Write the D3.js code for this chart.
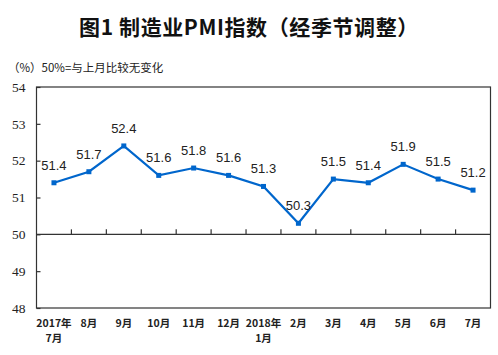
<!DOCTYPE html>
<html><head><meta charset="utf-8">
<script src="https://cdn.jsdelivr.net/npm/d3@7"></script>
<style>body{margin:0;background:#fff}svg{display:block}</style>
</head><body><svg id="c" width="498" height="355"></svg>
<script>
const months = ["2017年\n7月","8月","9月","10月","11月","12月","2018年\n1月","2月","3月","4月","5月","6月","7月"];
const pmi = [51.4,51.7,52.4,51.6,51.8,51.6,51.3,50.3,51.5,51.4,51.9,51.5,51.2];
const yTicks = [48,49,50,51,52,53,54];
const title = "图1 制造业PMI指数（经季节调整）";
const subtitle = "（%）50%=与上月比较无变化";

const svg = d3.select("#c");
const L=36.5, R=490.5, T=87, B=308;
const x = d3.scaleBand().domain(d3.range(months.length)).range([L,R]).padding(0);
const y = d3.scaleLinear().domain([48,54]).range([B,T]);
const axisColor="#333";

svg.append("text").attr("x",249).attr("y",35).attr("text-anchor","middle")
  .attr("font-family","'Noto Sans CJK SC',sans-serif").attr("font-weight","bold")
  .attr("font-size",21).attr("letter-spacing",0.6).attr("fill","#111").text(title);
svg.append("text").attr("x",8).attr("y",72)
  .attr("font-family","'Noto Sans CJK SC',sans-serif").attr("font-size",11.5)
  .attr("fill","#222").text(subtitle);

// frame
svg.append("rect").attr("x",L).attr("y",T).attr("width",R-L).attr("height",B-T)
  .attr("fill","none").attr("stroke",axisColor).attr("stroke-width",1.2);

// y axis
const ya = svg.append("g").attr("transform",`translate(${L},0)`)
  .call(d3.axisLeft(y).tickValues(yTicks).tickSize(-4).tickPadding(11).tickFormat(d3.format("d")));
ya.select(".domain").remove();
ya.selectAll("line").attr("stroke",axisColor).attr("stroke-width",1.2);
ya.selectAll("text").attr("font-family","'Liberation Serif',serif").attr("font-size",13.5).attr("fill","#222");

// x axis on the 50 line, ticks pointing up, at band boundaries
const y50 = y(50);
svg.append("line").attr("x1",L).attr("x2",R).attr("y1",y50).attr("y2",y50)
  .attr("stroke",axisColor).attr("stroke-width",1.2);
svg.append("g").selectAll("line").data(d3.range(1,months.length)).join("line")
  .attr("x1",d=>x(d)).attr("x2",d=>x(d)).attr("y1",y50).attr("y2",y50-5)
  .attr("stroke",axisColor).attr("stroke-width",1.2);

// x labels
const xl = svg.append("g").selectAll("text").data(months).join("text")
  .attr("text-anchor","middle")
  .attr("font-family","'Noto Sans CJK SC',sans-serif").attr("font-size",10.5)
  .attr("font-weight","bold").attr("fill","#222");
xl.each(function(d,i){
  const parts=d.split("\n");
  d3.select(this).selectAll("tspan").data(parts).join("tspan")
    .attr("x",x(i)+x.bandwidth()/2).attr("y",(p,j)=>327+j*15).text(p=>p);
});

// line
const line = d3.line().x((d,i)=>x(i)+x.bandwidth()/2).y(d=>y(d));
svg.append("path").datum(pmi).attr("d",line).attr("fill","none")
  .attr("stroke","#0066CC").attr("stroke-width",2.2);
svg.append("g").selectAll("rect").data(pmi).join("rect")
  .attr("x",(d,i)=>x(i)+x.bandwidth()/2-2.5).attr("y",d=>y(d)-2.5)
  .attr("width",5).attr("height",5).attr("fill","#0066CC");
svg.append("g").selectAll("text").data(pmi).join("text")
  .attr("x",(d,i)=>x(i)+x.bandwidth()/2).attr("y",d=>y(d)-13)
  .attr("text-anchor","middle").attr("font-family","'Liberation Sans',Arial,sans-serif")
  .attr("font-size",13).attr("fill","#222").text(d=>d.toFixed(1));
</script></body></html>
